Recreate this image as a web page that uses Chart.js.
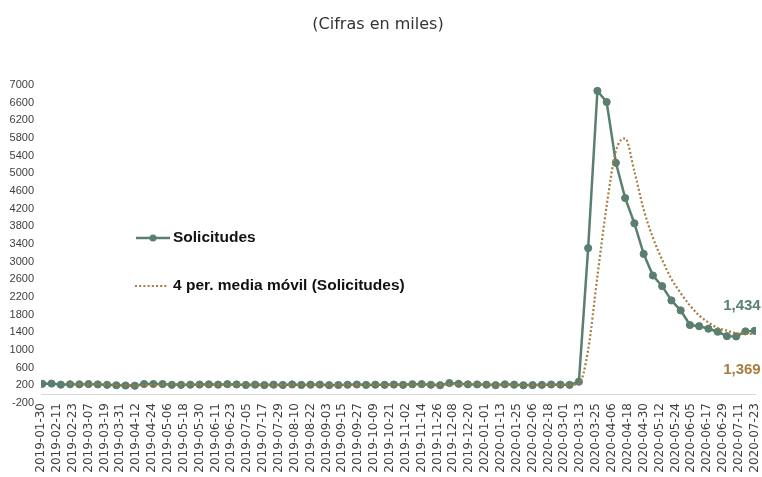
<!DOCTYPE html>
<html><head><meta charset="utf-8">
<script src="https://cdn.jsdelivr.net/npm/chart.js@4.4.1/dist/chart.umd.min.js"></script>
<style>html,body{margin:0;padding:0;background:#fff;overflow:hidden}#wrap{width:762px;height:477px}</style>
</head><body><div id="wrap"><canvas id="c" width="762" height="477"></canvas></div>
<script>
const chartTitle = '(Cifras en miles)';
const seriesNames = ['Solicitudes', '4 per. media móvil (Solicitudes)'];
const maPeriod = 4;
const axisStart = '2019-01-30';
const axisEnd = '2020-07-24';

const weekDates = [
 '2019-01-31','2019-02-07','2019-02-14','2019-02-21','2019-02-28','2019-03-07','2019-03-14','2019-03-21','2019-03-28',
 '2019-04-04','2019-04-11','2019-04-18','2019-04-25','2019-05-02','2019-05-09','2019-05-16','2019-05-23','2019-05-30',
 '2019-06-06','2019-06-13','2019-06-20','2019-06-27','2019-07-04','2019-07-11','2019-07-18','2019-07-25',
 '2019-08-01','2019-08-08','2019-08-15','2019-08-22','2019-08-29','2019-09-05','2019-09-12','2019-09-19','2019-09-26',
 '2019-10-03','2019-10-10','2019-10-17','2019-10-24','2019-10-31','2019-11-07','2019-11-14','2019-11-21','2019-11-28',
 '2019-12-05','2019-12-12','2019-12-19','2019-12-26',
 '2020-01-02','2020-01-09','2020-01-16','2020-01-23','2020-01-30','2020-02-06','2020-02-13','2020-02-20','2020-02-27',
 '2020-03-05','2020-03-12','2020-03-19','2020-03-26','2020-04-02','2020-04-09','2020-04-16','2020-04-23','2020-04-30',
 '2020-05-07','2020-05-14','2020-05-21','2020-05-28','2020-06-04','2020-06-11','2020-06-18','2020-06-25',
 '2020-07-02','2020-07-09','2020-07-16','2020-07-23'
];

const solicitudes = [
 234,239,216,225,223,229,221,211,202,
 196,192,230,230,228,212,211,215,218,
 222,216,227,221,209,216,206,215,
 209,220,209,215,217,204,208,213,219,
 210,214,212,218,211,225,227,213,203,
 252,234,222,220,
 214,204,223,216,202,205,210,219,216,
 211,282,3307,6867,6615,5237,4442,3867,3176,
 2687,2446,2123,1897,1566,1540,1482,1413,
 1314,1307,1422,1434
];

const xTickLabels = [
 '2019-01-30','2019-02-11','2019-02-23','2019-03-07','2019-03-19','2019-03-31','2019-04-12','2019-04-24',
 '2019-05-06','2019-05-18','2019-05-30','2019-06-11','2019-06-23','2019-07-05','2019-07-17','2019-07-29',
 '2019-08-10','2019-08-22','2019-09-03','2019-09-15','2019-09-27','2019-10-09','2019-10-21','2019-11-02',
 '2019-11-14','2019-11-26','2019-12-08','2019-12-20','2020-01-01','2020-01-13','2020-01-25','2020-02-06',
 '2020-02-18','2020-03-01','2020-03-13','2020-03-25','2020-04-06','2020-04-18','2020-04-30','2020-05-12',
 '2020-05-24','2020-06-05','2020-06-17','2020-06-29','2020-07-11','2020-07-23'
];

const yMin = -200, yMax = 7000, yStep = 400;

const GREEN = '#5A7F6E';
const BROWN = '#A87C3E';
const NARROW = '"Liberation Sans Narrow","Arial Narrow","Liberation Sans",Arial,sans-serif';
const WIDE = '"DejaVu Sans",Verdana,sans-serif';

function dayOf(s){ return (Date.parse(s+'T00:00:00Z') - Date.parse(axisStart+'T00:00:00Z'))/86400000; }

const solPoints = weekDates.map((d,i)=>({x: dayOf(d), y: solicitudes[i]}));
const maPoints = [];
for (let i = maPeriod-1; i < solicitudes.length; i++) {
  let s = 0; for (let j = i-maPeriod+1; j <= i; j++) s += solicitudes[j];
  maPoints.push({x: dayOf(weekDates[i]), y: s/maPeriod});
}
const tickMap = {}; xTickLabels.forEach(l => tickMap[dayOf(l)] = l);

function fmt(v){ return Math.round(v).toLocaleString('en-US'); }

const extras = {
  id: 'extras',
  beforeDatasetsDraw(chart){
    const {ctx, chartArea:a, scales:{y}} = chart;
    const py = Math.round(y.getPixelForValue(0)) + 0.5;
    ctx.save(); ctx.strokeStyle = '#D9D9D9'; ctx.lineWidth = 1;
    ctx.beginPath(); ctx.moveTo(a.left, py); ctx.lineTo(a.right, py); ctx.stroke(); ctx.restore();
  },
  afterDraw(chart){
    const {ctx, scales:{x, y}} = chart;
    ctx.save();
    // legend
    ctx.strokeStyle = GREEN; ctx.lineWidth = 2.5; ctx.setLineDash([]);
    ctx.beginPath(); ctx.moveTo(136, 238); ctx.lineTo(170, 238); ctx.stroke();
    ctx.fillStyle = GREEN; ctx.beginPath(); ctx.arc(153, 238, 3.5, 0, Math.PI*2); ctx.fill();
    ctx.strokeStyle = BROWN; ctx.lineWidth = 2.2; ctx.setLineDash([2, 2.2]);
    ctx.beginPath(); ctx.moveTo(135, 286); ctx.lineTo(168, 286); ctx.stroke();
    ctx.setLineDash([]);
    ctx.fillStyle = '#111'; ctx.font = 'bold 15.5px ' + NARROW; ctx.textBaseline = 'middle'; ctx.textAlign = 'left';
    ctx.fillText(seriesNames[0], 173, 238);
    ctx.fillText(seriesNames[1], 173, 286);
    // data labels
    const last = solPoints[solPoints.length-1], lastMa = maPoints[maPoints.length-1];
    ctx.font = 'bold 15px ' + NARROW; ctx.textAlign = 'right';
    ctx.fillStyle = GREEN;
    ctx.fillText(fmt(last.y), x.getPixelForValue(last.x) + 6, y.getPixelForValue(last.y) - 25);
    ctx.fillStyle = BROWN;
    ctx.fillText(fmt(lastMa.y), x.getPixelForValue(lastMa.x) + 6, y.getPixelForValue(lastMa.y) + 36);
    ctx.restore();
  }
};

new Chart(document.getElementById('c'), {
  type: 'line',
  data: {
    datasets: [
      { label: seriesNames[1], data: maPoints, borderColor: BROWN, borderWidth: 2.2, borderDash: [2, 2.2],
        pointRadius: 0, fill: false, cubicInterpolationMode: 'monotone', order: 0 },
      { label: seriesNames[0], data: solPoints, borderColor: GREEN, borderWidth: 2.5, backgroundColor: GREEN,
        pointRadius: 3.6, pointBackgroundColor: GREEN, pointBorderColor: GREEN, pointBorderWidth: 1,
        fill: false, tension: 0, order: 1 }
    ]
  },
  options: {
    responsive: false, animation: false, devicePixelRatio: 1,
    layout: { padding: { left: 0, right: 6, top: 0, bottom: 0 } },
    plugins: {
      legend: { display: false }, tooltip: { enabled: false },
      title: { display: true, text: chartTitle, color: '#333', font: { family: WIDE, size: 16, weight: 'normal' },
               padding: { top: 15, bottom: 50.8 } }
    },
    scales: {
      x: {
        type: 'linear', min: 0, max: dayOf(axisEnd),
        afterBuildTicks(scale){ scale.ticks = xTickLabels.map(l => ({ value: dayOf(l) })); },
        afterFit(scale){ scale.height = 74; scale.paddingLeft = 0; scale.paddingRight = 0; },
        grid: { display: false, drawTicks: false }, border: { display: false },
        ticks: { autoSkip: false, maxRotation: 90, minRotation: 90, padding: 0, color: '#404040',
                 font: { family: WIDE, size: 12 }, callback: v => tickMap[v] || '' }
      },
      y: {
        min: yMin, max: yMax,
        afterFit(scale){ scale.width = 41; },
        grid: { display: false, drawTicks: false }, border: { display: false },
        ticks: { stepSize: yStep, padding: 7, color: '#404040', font: { family: NARROW, size: 11 },
                 callback: v => String(v) }
      }
    }
  },
  plugins: [extras]
});
</script></body></html>
